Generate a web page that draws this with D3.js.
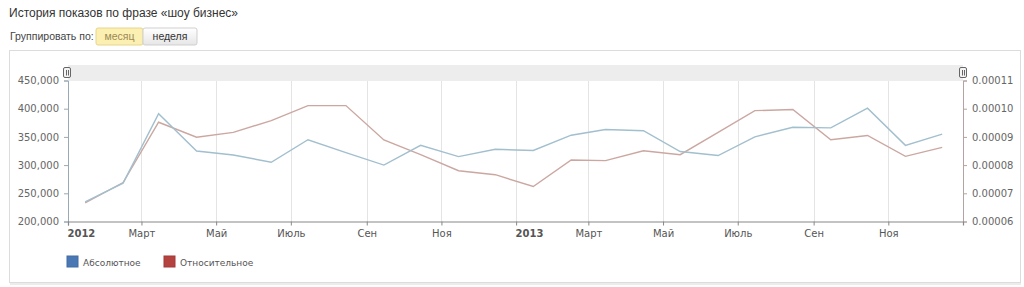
<!DOCTYPE html>
<html><head><meta charset="utf-8">
<script src="https://cdnjs.cloudflare.com/ajax/libs/d3/7.8.5/d3.min.js"></script>
<style>
body{margin:0;background:#fff;font-family:Verdana,"DejaVu Sans",sans-serif;}
</style></head><body>
<svg id="c" width="1024" height="287"></svg>
<script>
const months = ["2012-01-15","2012-02-15","2012-03-15","2012-04-15","2012-05-15","2012-06-15","2012-07-15","2012-08-15","2012-09-15","2012-10-15","2012-11-15","2012-12-15",
"2013-01-15","2013-02-15","2013-03-15","2013-04-15","2013-05-15","2013-06-15","2013-07-15","2013-08-15","2013-09-15","2013-10-15","2013-11-15","2013-12-15"];
const absolute = [235000,268000,391000,325000,318000,305000,345000,322000,300000,335000,315000,328000,
326000,353000,363000,361000,324000,317000,350000,367000,366000,401000,335000,355000];
const relative = [0.0000666,0.0000738,0.0000952,0.0000899,0.0000916,0.0000958,0.0001011,0.0001011,0.0000889,0.0000837,0.0000780,0.0000766,
0.0000724,0.0000818,0.0000816,0.0000851,0.0000837,0.0000916,0.0000993,0.0000997,0.0000890,0.0000905,0.0000831,0.0000863];
const leftTicks = [200000,250000,300000,350000,400000,450000];
const rightTicks = [0.00006,0.00007,0.00008,0.00009,0.00010,0.00011];
const xTickDates = ["2012-01-01","2012-03-01","2012-05-01","2012-07-01","2012-09-01","2012-11-01","2013-01-01","2013-03-01","2013-05-01","2013-07-01","2013-09-01","2013-11-01"];
const xTickLabels = ["2012","Март","Май","Июль","Сен","Ноя","2013","Март","Май","Июль","Сен","Ноя"];
const seriesNames = ["Абсолютное","Относительное"];
const legendColors = ["#4a78b4","#b4423f"];
const lineColors = ["#a2bfce","#cba7a1"];

const svg = d3.select("#c");
const parse = d3.utcParse("%Y-%m-%d");
const dates = months.map(parse);
const AR = "Arial,'Liberation Sans',sans-serif";

// header
svg.append("text").attr("x",9).attr("y",17).attr("font-size",12).attr("font-family",AR).attr("fill","#333").text("История показов по фразе «шоу бизнес»");
svg.append("text").attr("x",10).attr("y",40).attr("font-size",10.5).attr("font-family",AR).attr("fill","#444").text("Группировать по:");
svg.append("rect").attr("x",96).attr("y",28).attr("width",47).attr("height",17).attr("fill","#fcefb2").attr("stroke","#e6d68a").attr("rx",2);
svg.append("text").attr("x",119.5).attr("y",40).attr("text-anchor","middle").attr("font-size",10.5).attr("font-family",AR).attr("fill","#9a8a55").text("месяц");
const g1 = svg.append("defs").append("linearGradient").attr("id","gb").attr("x1",0).attr("x2",0).attr("y1",0).attr("y2",1);
g1.append("stop").attr("offset",0).attr("stop-color","#ffffff");
g1.append("stop").attr("offset",1).attr("stop-color","#e6e6e6");
svg.append("rect").attr("x",143).attr("y",28).attr("width",54).attr("height",17).attr("fill","url(#gb)").attr("stroke","#cfcfcf").attr("rx",2);
svg.append("text").attr("x",170).attr("y",40).attr("text-anchor","middle").attr("font-size",10.5).attr("font-family",AR).attr("fill","#333").text("неделя");

// panel
svg.append("rect").attr("x",9.5).attr("y",50.5).attr("width",1011).attr("height",232).attr("fill","#fff").attr("stroke","#dcdcdc");
svg.append("line").attr("x1",10).attr("x2",1021).attr("y1",284).attr("y2",284).attr("stroke","#ececec").attr("stroke-width",2);

const x = d3.scaleUtc().domain([parse("2012-01-01"),parse("2014-01-01")]).range([68,963]);
const yL = d3.scaleLinear().domain([200000,450000]).range([221.5,80.5]);
const yR = d3.scaleLinear().domain([0.00006,0.00011]).range([221.5,80.5]);

// navigator band
svg.append("rect").attr("x",68).attr("y",65).attr("width",895).attr("height",16).attr("fill","#ededed");

// vertical gridlines
svg.append("g").selectAll("line").data(xTickDates.slice(1)).join("line")
 .attr("x1",d=>Math.round(x(parse(d)))+0.5).attr("x2",d=>Math.round(x(parse(d)))+0.5)
 .attr("y1",81).attr("y2",221.5).attr("stroke","#e4e4e4");

// left axis
const la = svg.append("g").attr("transform","translate(68,0)")
 .call(d3.axisLeft(yL).tickValues(leftTicks).tickSize(4).tickFormat(d3.format(",")));
la.select(".domain").attr("stroke","#9aa9b4");
la.selectAll(".tick line").attr("stroke","#9aa9b4");
la.selectAll("text").attr("font-size",10).attr("fill","#666").attr("font-family","Verdana,'DejaVu Sans',sans-serif").attr("dx",-2);

// right axis
const ra = svg.append("g").attr("transform","translate(963,0)")
 .call(d3.axisRight(yR).tickValues(rightTicks).tickSize(4).tickFormat(d3.format(".5f")));
ra.select(".domain").attr("stroke","#b2a4a2");
ra.selectAll(".tick line").attr("stroke","#b2a4a2");
ra.selectAll("text").attr("font-size",10).attr("fill","#666").attr("font-family","Verdana,'DejaVu Sans',sans-serif").attr("dx",2);

// x axis
const xa = svg.append("g").attr("transform","translate(0,221.5)")
 .call(d3.axisBottom(x).tickValues(xTickDates.map(parse)).tickSize(4).tickFormat((d,i)=>xTickLabels[i]));
xa.select(".domain").attr("stroke","#888").attr("stroke-width",1.2);
xa.selectAll(".tick line").attr("stroke","#888");
xa.selectAll("text").attr("font-size",10).attr("fill","#555").attr("dy",8)
 .attr("font-family","Verdana,'DejaVu Sans',sans-serif")
 .attr("font-weight",(d,i)=>/^\d+$/.test(xTickLabels[i])?"bold":"normal")
 .attr("text-anchor",(d,i)=>/^\d+$/.test(xTickLabels[i])?"start":"middle")
 .attr("dx",(d,i)=>/^\d+$/.test(xTickLabels[i])?-1:0);

// lines
const lineA = d3.line().x((d,i)=>x(dates[i])).y(d=>yL(d));
const lineR = d3.line().x((d,i)=>x(dates[i])).y(d=>yR(d));
svg.append("path").attr("d",lineR(relative)).attr("fill","none").attr("stroke",lineColors[1]).attr("stroke-width",1.4);
svg.append("path").attr("d",lineA(absolute)).attr("fill","none").attr("stroke",lineColors[0]).attr("stroke-width",1.4);

// handles
[67,963].forEach(hx=>{
  svg.append("rect").attr("x",hx-3.5).attr("y",67.5).attr("width",7).attr("height",10).attr("rx",1.5).attr("fill","#f4f4f4").attr("stroke","#666");
  svg.append("line").attr("x1",hx-0.5).attr("x2",hx-0.5).attr("y1",70).attr("y2",75.5).attr("stroke","#666");
  svg.append("line").attr("x1",hx+1.5).attr("x2",hx+1.5).attr("y1",70).attr("y2",75.5).attr("stroke","#666");
});

// legend
const lg = svg.append("g").selectAll("g").data(seriesNames).join("g")
 .attr("transform",(d,i)=>`translate(${[67,164][i]},256)`);
lg.append("rect").attr("width",11).attr("height",11).attr("fill",(d,i)=>legendColors[i]).attr("stroke",(d,i)=>d3.color(legendColors[i]).darker(0.3));
lg.append("text").attr("x",16).attr("y",9.5).attr("font-size",9).attr("fill","#555").text(d=>d);
</script>
</body></html>
